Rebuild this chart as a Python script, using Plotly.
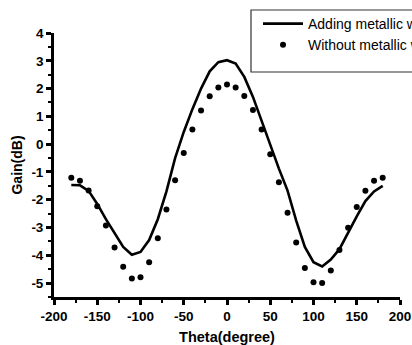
import plotly.graph_objects as go

theta = [-180, -170, -160, -150, -140, -130, -120, -110, -100, -90, -80, -70, -60,
         -50, -40, -30, -20, -10, 0, 10, 20, 30, 40, 50, 60, 70, 80, 90, 100,
         110, 120, 130, 140, 150, 160, 170, 180]

gain_with_wall = [-1.47, -1.48, -1.68, -2.15, -2.70, -3.22, -3.70, -3.98, -3.88, -3.45,
                  -2.70, -1.70, -0.50, 0.44, 1.26, 2.00, 2.62, 2.95, 3.02, 2.90, 2.42,
                  1.70, 0.85, -0.05, -0.88, -1.67, -2.75, -3.70, -4.25, -4.40, -4.15,
                  -3.78, -3.17, -2.60, -2.05, -1.70, -1.50]

gain_without_wall = [-1.21, -1.32, -1.67, -2.23, -2.93, -3.72, -4.41, -4.83, -4.79, -4.25,
                     -3.39, -2.35, -1.30, -0.32, 0.53, 1.21, 1.72, 2.04, 2.15, 2.04, 1.73,
                     1.23, 0.53, -0.36, -1.37, -2.47, -3.54, -4.46, -4.97, -5.00, -4.55,
                     -3.81, -3.01, -2.26, -1.68, -1.32, -1.21]

x_ticks = [-200, -150, -100, -50, 0, 50, 100, 150, 200]
y_ticks = [-5, -4, -3, -2, -1, 0, 1, 2, 3, 4]

FONT = "Liberation Sans, Arial, sans-serif"

fig = go.Figure()
fig.add_trace(go.Scatter(
    x=theta, y=gain_with_wall, mode="lines", name="Adding metallic wall",
    line=dict(color="black", width=2.6),
))
fig.add_trace(go.Scatter(
    x=theta, y=gain_without_wall, mode="markers", name="Without metallic wall",
    marker=dict(color="black", size=6),
))

# legend frame
fig.add_shape(type="rect", xref="paper", yref="paper",
              x0=(251 - 54) / 346, x1=(430 - 54) / 346,
              y0=(297 - 72) / 264, y1=(297 - 10) / 264,
              line=dict(color="#333333", width=1.2), fillcolor="white", layer="below")

axis_common = dict(
    showline=True, linecolor="black", linewidth=2.8, mirror=False,
    showgrid=False, zeroline=False,
    ticks="outside", ticklen=5, tickwidth=2.5, tickcolor="black",
    tickfont=dict(family=FONT, size=13.5, color="black", weight="bold"),
)

fig.update_xaxes(
    range=[-200, 200], tickvals=x_ticks, ticktext=[str(v) for v in x_ticks],
    title=dict(text="Theta(degree)", font=dict(family=FONT, size=14.5, color="black", weight="bold"),
               standoff=13),
    minor=dict(ticks="outside", ticklen=3, tickwidth=2, tickcolor="black", dtick=25, tick0=0),
    **axis_common,
)
fig.update_yaxes(
    range=[-5.5, 4], tickvals=y_ticks, ticktext=[str(v) for v in y_ticks],
    title=dict(text="Gain(dB)", font=dict(family=FONT, size=14, color="black", weight="bold"),
               standoff=6),
    minor=dict(ticks="outside", ticklen=3, tickwidth=2, tickcolor="black", dtick=0.5, tick0=0),
    **axis_common,
)

fig.update_layout(
    width=412, height=345,
    margin=dict(l=54, r=12, t=33, b=48, autoexpand=False),
    plot_bgcolor="white", paper_bgcolor="white",
    showlegend=True,
    legend=dict(
        x=(258 - 54) / 346, y=(297 - 8) / 264, xanchor="left", yanchor="top",
        bgcolor="rgba(0,0,0,0)", borderwidth=0,
        font=dict(family=FONT, size=14, color="black"),
        tracegroupgap=0, itemwidth=40,
    ),
)

fig.write_html("out.html",
               config={"displayModeBar": False},
               post_script="document.body.style.margin='0';document.body.style.overflow='hidden';")
